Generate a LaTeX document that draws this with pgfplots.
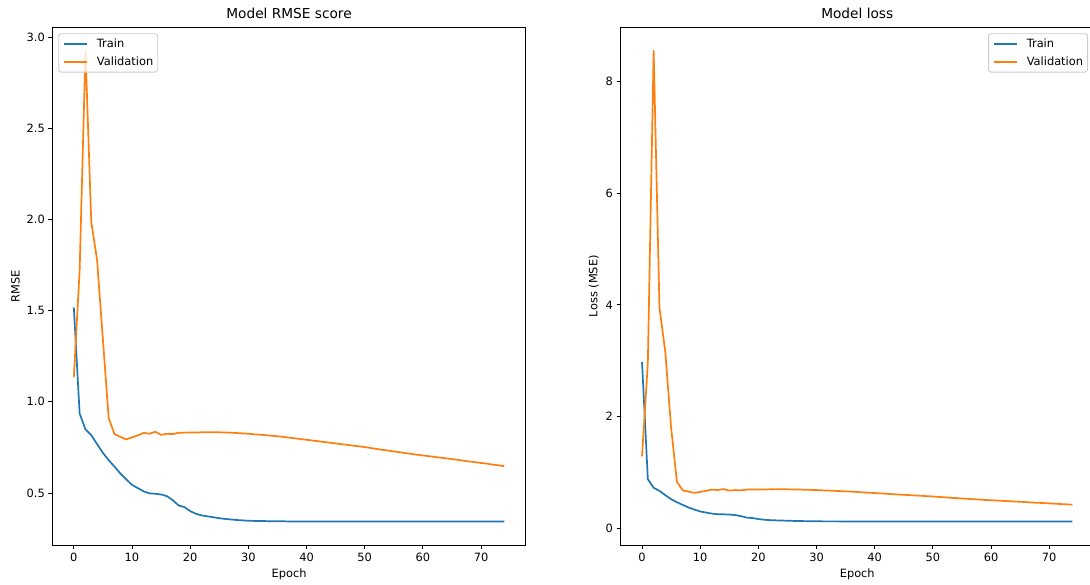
\documentclass[border=0pt]{standalone}
\usepackage{fontspec}
\setmainfont{DejaVu Sans}
\usepackage{pgfplots}
\usepackage{pgfplotstable}
\pgfplotsset{compat=1.18}
\definecolor{mplblue}{HTML}{1F77B4}
\definecolor{mplorange}{HTML}{FF7F0E}

\pgfplotstableread{
ep tr va
0 1.518 1.134
1 0.936 1.72
2 0.849 2.925
3 0.817 1.987
4 0.768 1.777
5 0.720 1.34
6 0.680 0.909
7 0.644 0.823
8 0.607 0.808
9 0.575 0.794
10 0.545 0.805
11 0.527 0.816
12 0.509 0.830
13 0.498 0.825
14 0.496 0.836
15 0.492 0.819
16 0.483 0.825
17 0.461 0.823
18 0.432 0.830
19 0.423 0.831
20 0.401 0.832
21 0.386 0.832
22 0.377 0.833
23 0.372 0.833
24 0.367 0.834
25 0.362 0.833
26 0.358 0.832
27 0.355 0.831
28 0.352 0.829
29 0.350 0.827
30 0.348 0.825
31 0.347 0.822
32 0.346 0.820
33 0.346 0.817
34 0.345 0.814
35 0.345 0.811
36 0.345 0.808
37 0.344 0.804
38 0.344 0.800
39 0.344 0.796
40 0.344 0.792
41 0.344 0.788
42 0.344 0.784
43 0.344 0.780
44 0.344 0.776
45 0.344 0.772
46 0.344 0.768
47 0.344 0.764
48 0.344 0.760
49 0.344 0.756
50 0.344 0.752
51 0.344 0.747
52 0.344 0.742
53 0.344 0.737
54 0.344 0.733
55 0.344 0.728
56 0.344 0.724
57 0.344 0.719
58 0.344 0.715
59 0.344 0.710
60 0.344 0.706
61 0.344 0.702
62 0.344 0.698
63 0.344 0.694
64 0.344 0.690
65 0.344 0.686
66 0.344 0.682
67 0.344 0.677
68 0.344 0.673
69 0.344 0.669
70 0.344 0.665
71 0.344 0.661
72 0.344 0.656
73 0.344 0.652
74 0.344 0.647
}\rmsedata

\pgfplotstableread{
ep tl vl
0 2.98 1.286
1 0.876 2.96
2 0.721 8.556
3 0.667 3.948
4 0.590 3.158
5 0.518 1.80
6 0.462 0.826
7 0.415 0.677
8 0.368 0.653
9 0.331 0.630
10 0.297 0.648
11 0.278 0.666
12 0.259 0.689
13 0.248 0.681
14 0.246 0.699
15 0.242 0.671
16 0.233 0.681
17 0.213 0.677
18 0.187 0.689
19 0.179 0.691
20 0.161 0.692
21 0.149 0.692
22 0.142 0.694
23 0.138 0.694
24 0.135 0.696
25 0.131 0.694
26 0.128 0.692
27 0.126 0.691
28 0.124 0.687
29 0.1225 0.684
30 0.121 0.681
31 0.120 0.676
32 0.120 0.672
33 0.120 0.667
34 0.119 0.663
35 0.119 0.658
36 0.119 0.653
37 0.118 0.646
38 0.118 0.640
39 0.118 0.634
40 0.118 0.627
41 0.118 0.621
42 0.118 0.615
43 0.118 0.608
44 0.118 0.602
45 0.118 0.596
46 0.118 0.590
47 0.118 0.584
48 0.118 0.578
49 0.118 0.572
50 0.118 0.566
51 0.118 0.558
52 0.118 0.551
53 0.118 0.543
54 0.118 0.537
55 0.118 0.530
56 0.118 0.524
57 0.118 0.517
58 0.118 0.511
59 0.118 0.504
60 0.118 0.498
61 0.118 0.493
62 0.118 0.487
63 0.118 0.482
64 0.118 0.476
65 0.118 0.471
66 0.118 0.465
67 0.118 0.458
68 0.118 0.453
69 0.118 0.448
70 0.118 0.442
71 0.118 0.437
72 0.118 0.430
73 0.118 0.425
74 0.118 0.419
}\lossdata

\pgfplotsset{mpl/.style={
  scale only axis, width=473.5pt, height=517.7pt,
  enlarge x limits=0.05, enlarge y limits=0.05,
  axis line style={line width=0.9pt, black},
  tick pos=left, tick align=outside, major tick length=4pt,
  every tick/.style={black, line width=0.9pt},
  tick label style={font=\fontsize{11.4}{13.5}\selectfont},
  xticklabel style={yshift=-0.5pt},
  label style={font=\fontsize{11.4}{13.5}\selectfont},
  title style={font=\fontsize{13.7}{16}\selectfont, at={(0.5,1)}, anchor=base, yshift=3pt},
  /pgf/number format/assume math mode=true,
  xtick={0,10,...,70},
  xlabel={Epoch},
  legend cell align=left,
  legend style={draw=black!20, line width=0.9pt, rounded corners=2.5pt, fill=white, fill opacity=0.8, text opacity=1,
    font=\fontsize{11.4}{13.5}\selectfont, inner xsep=4.5pt, inner ysep=5pt, row sep=8pt,
    nodes={inner sep=0pt},
    /tikz/every odd column/.append style={column sep=9pt}},
  legend image code/.code={\draw[#1, line width=1.7pt] (0pt,0pt) -- (23pt,0pt);},
  every axis plot/.append style={line width=1.7pt, line join=round, mark=none},
}}

\begin{document}
\begin{tikzpicture}
\useasboundingbox (0,0) rectangle (1090pt,585pt);
\begin{axis}[mpl, at={(52.3pt,40pt)}, anchor=south west,
  title={Model RMSE score}, ylabel={RMSE},
  ytick={0.5,1.0,1.5,2.0,2.5,3.0},
  yticklabel style={/pgf/number format/.cd, fixed, fixed zerofill, precision=1},
  legend style={at={(0,1)}, anchor=north west, xshift=6pt, yshift=-6pt}]
\addplot[mplblue, line width=1.7pt] table[x=ep, y=tr] {\rmsedata};
\addlegendentry{Train}
\addplot[mplorange, line width=1.7pt] table[x=ep, y=va] {\rmsedata};
\addlegendentry{Validation}
\end{axis}
\begin{axis}[mpl, at={(620.5pt,40pt)}, anchor=south west,
  title={Model loss}, ylabel={Loss (MSE)},
  ytick={0,2,4,6,8},
  legend style={at={(1,1)}, anchor=north east, xshift=-6pt, yshift=-6pt}]
\addplot[mplblue, line width=1.7pt] table[x=ep, y=tl] {\lossdata};
\addlegendentry{Train}
\addplot[mplorange, line width=1.7pt] table[x=ep, y=vl] {\lossdata};
\addlegendentry{Validation}
\end{axis}
\end{tikzpicture}
\end{document}
